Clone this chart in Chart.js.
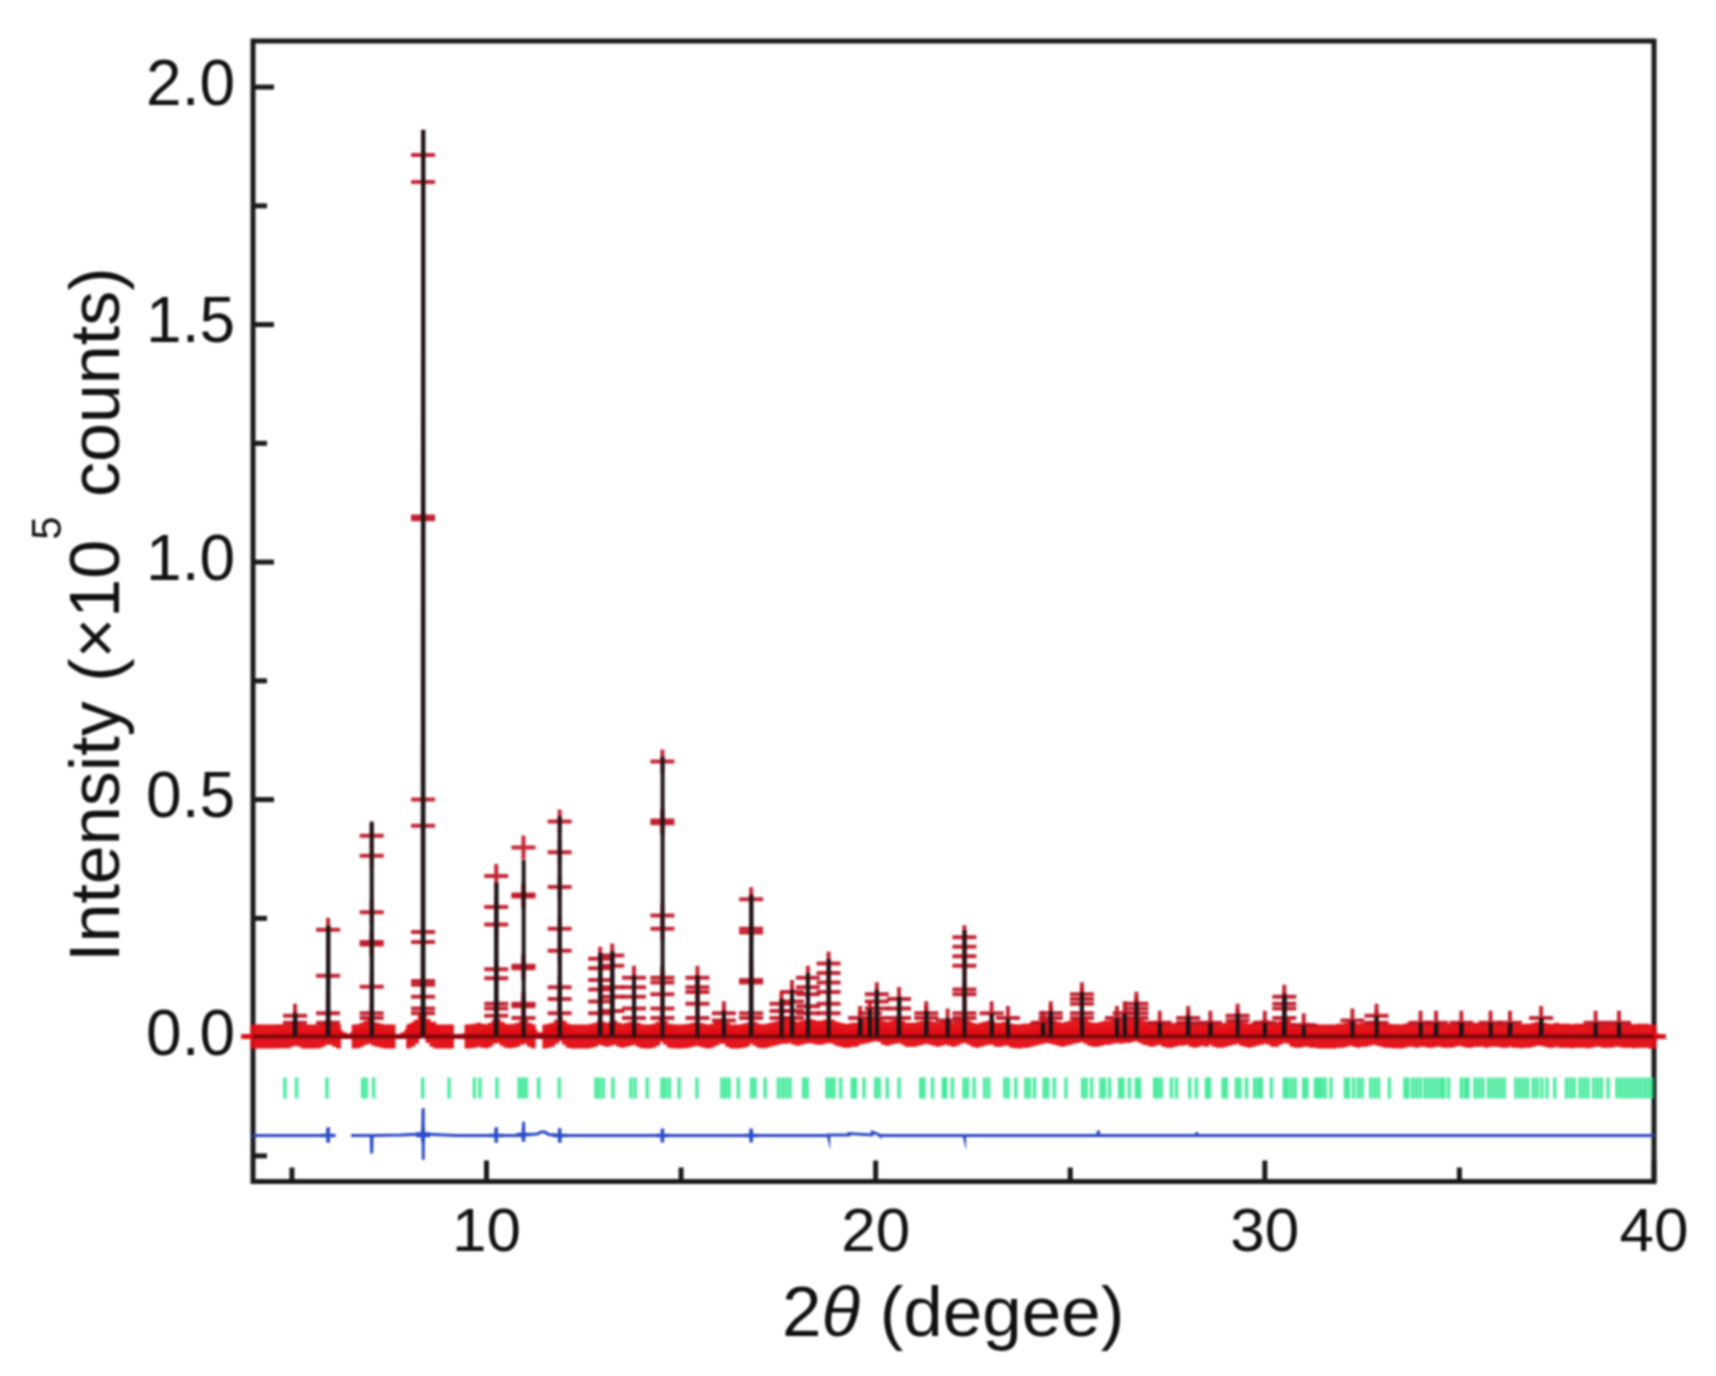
<!DOCTYPE html>
<html><head><meta charset="utf-8">
<style>html,body{margin:0;padding:0;background:#fff}canvas{display:block;filter:blur(1px)}</style>
<script src="https://cdn.jsdelivr.net/npm/chart.js@4"></script>
</head><body><canvas id="c" width="1716" height="1376"></canvas>
<script>
const xTicks=[5,10,15,20,25,30,35,40];
const xLabels={10:'10',20:'20',30:'30',40:'40'};
const yTicks=[-0.25,0,0.25,0.5,0.75,1,1.25,1.5,1.75,2];
const yLabels={0:'0.0',0.5:'0.5',1:'1.0',1.5:'1.5',2:'2.0'};
const xTitleParts=['2','θ',' (degee)'];
const yTitleParts=['Intensity (×10','5',' counts)'];

// observed (+): peak positions and the marker heights read on each peak
const peakPos=[5.08,5.93,7.05,8.37,10.25,10.95,11.88,12.92,13.23,13.79,14.52,15.42,16.1,16.8,17.58,17.85,18.26,18.79,19.6,19.85,20.03,20.6,21.3,21.85,22.28,22.98,23.4,24.3,24.5,25.3,26.2,26.4,26.7,27.3,28.03,28.6,29.3,30.0,30.5,31.0,32.25,32.87,34.0,34.4,35.05,35.8,36.3,37.1,38.5,39.1];
const peakMarks=[[.03,.045],[.226,.129,.05,.03],[.424,.382,.263,.2,.195,.106,.05,.04],[1.857,1.8,1.096,1.09,.5,.445,.221,.2,.118,.11,.085,.06,.05],[.339,.274,.237,.143,.124,.07,.06,.045],[.399,.3,.296,.15,.145,.07,.065,.04],[.454,.389,.316,.228,.182,.105,.08,.05],[.165,.145,.12,.1,.075,.05],[.172,.15,.105,.085,.055],[.125,.105,.085,.06,.04],[.58,.456,.45,.256,.228,.125,.115,.09,.06,.04],[.125,.105,.095,.07,.04],[.05,.035],[.29,.228,.22,.12,.115,.05,.04],[.07,.055,.04],[.095,.075,.055,.04],[.125,.105,.09,.065,.05],[.155,.135,.115,.095,.07,.05],[.04],[.05],[.09,.075,.06,.04],[.08,.06,.04],[.05,.04],[.035],[.21,.19,.17,.15,.1,.09,.05,.04],[.05],[.04],[.03],[.05,.04],[.09,.08,.07,.05,.04],[.04],[.05],[.07,.06,.05,.04],[.03],[.04,.03],[.03],[.045,.035],[.03],[.085,.07,.06,.04],[.025],[.035],[.045,.03],[.03],[.03],[.03],[.03],[.03],[.04],[.03],[.03]];

// observed (+): dense background band, one row per degree, null where the band has a gap
const bandX=[
4.0,4.1,4.2,4.3,4.4,4.5,4.6,4.7,4.8,4.9,
5.0,5.1,5.2,5.3,5.4,5.5,5.6,5.7,5.8,5.9,
6.0,6.1,6.2,6.3,6.4,6.5,6.6,6.7,6.8,6.9,
7.0,7.1,7.2,7.3,7.4,7.5,7.6,7.7,7.8,7.9,
8.0,8.1,8.2,8.3,8.4,8.5,8.6,8.7,8.8,8.9,
9.0,9.1,9.2,9.3,9.4,9.5,9.6,9.7,9.8,9.9,
10.0,10.1,10.2,10.3,10.4,10.5,10.6,10.7,10.8,10.9,
11.0,11.1,11.2,11.3,11.4,11.5,11.6,11.7,11.8,11.9,
12.0,12.1,12.2,12.3,12.4,12.5,12.6,12.7,12.8,12.9,
13.0,13.1,13.2,13.3,13.4,13.5,13.6,13.7,13.8,13.9,
14.0,14.1,14.2,14.3,14.4,14.5,14.6,14.7,14.8,14.9,
15.0,15.1,15.2,15.3,15.4,15.5,15.6,15.7,15.8,15.9,
16.0,16.1,16.2,16.3,16.4,16.5,16.6,16.7,16.8,16.9,
17.0,17.1,17.2,17.3,17.4,17.5,17.6,17.7,17.8,17.9,
18.0,18.1,18.2,18.3,18.4,18.5,18.6,18.7,18.8,18.9,
19.0,19.1,19.2,19.3,19.4,19.5,19.6,19.7,19.8,19.9,
20.0,20.1,20.2,20.3,20.4,20.5,20.6,20.7,20.8,20.9,
21.0,21.1,21.2,21.3,21.4,21.5,21.6,21.7,21.8,21.9,
22.0,22.1,22.2,22.3,22.4,22.5,22.6,22.7,22.8,22.9,
23.0,23.1,23.2,23.3,23.4,23.5,23.6,23.7,23.8,23.9,
24.0,24.1,24.2,24.3,24.4,24.5,24.6,24.7,24.8,24.9,
25.0,25.1,25.2,25.3,25.4,25.5,25.6,25.7,25.8,25.9,
26.0,26.1,26.2,26.3,26.4,26.5,26.6,26.7,26.8,26.9,
27.0,27.1,27.2,27.3,27.4,27.5,27.6,27.7,27.8,27.9,
28.0,28.1,28.2,28.3,28.4,28.5,28.6,28.7,28.8,28.9,
29.0,29.1,29.2,29.3,29.4,29.5,29.6,29.7,29.8,29.9,
30.0,30.1,30.2,30.3,30.4,30.5,30.6,30.7,30.8,30.9,
31.0,31.1,31.2,31.3,31.4,31.5,31.6,31.7,31.8,31.9,
32.0,32.1,32.2,32.3,32.4,32.5,32.6,32.7,32.8,32.9,
33.0,33.1,33.2,33.3,33.4,33.5,33.6,33.7,33.8,33.9,
34.0,34.1,34.2,34.3,34.4,34.5,34.6,34.7,34.8,34.9,
35.0,35.1,35.2,35.3,35.4,35.5,35.6,35.7,35.8,35.9,
36.0,36.1,36.2,36.3,36.4,36.5,36.6,36.7,36.8,36.9,
37.0,37.1,37.2,37.3,37.4,37.5,37.6,37.7,37.8,37.9,
38.0,38.1,38.2,38.3,38.4,38.5,38.6,38.7,38.8,38.9,
39.0,39.1,39.2,39.3,39.4,39.5,39.6,39.7,39.8,39.9,40.0];
const n=null;
const bandBase=-0.007;
const bandY=[
.008,.008,.008,.008,.008,.008,.008,.009,.009,.009,
.012,.014,.012,.008,.008,.008,.008,.009,.012,.016,
.016,.012,.008,n,n,n,.008,.009,.012,.016,
.018,.014,.012,.01,.008,.008,.008,n,n,n,
.008,.012,.018,.03,.034,.02,.012,.008,.008,.008,
.008,.008,n,n,n,.008,.009,.01,.012,.01,
.009,.012,.018,.02,.014,.01,.009,.01,.012,.016,
.018,.012,.009,n,n,.008,.01,.012,.018,.024,
.016,.01,.008,.008,.008,.008,.008,.01,.012,.016,
.014,.012,.014,.016,.012,.01,.012,.014,.016,.012,
.009,.008,.008,.01,.014,.022,.016,.01,.009,.008,
.008,.009,.01,.012,.014,.012,.01,.008,.01,.014,
.018,.018,.012,.008,.008,.008,.01,.012,.018,.014,
.01,.009,.01,.012,.014,.016,.018,.018,.02,.016,
.014,.016,.018,.02,.018,.016,.016,.018,.02,.018,
.014,.012,.01,.01,.012,.012,.016,.018,.02,.022,
.024,.022,.016,.014,.016,.018,.02,.016,.012,.012,
.012,.014,.016,.018,.016,.014,.012,.014,.016,.014,
.012,.014,.018,.02,.016,.012,.01,.012,.014,.016,
.016,.012,.012,.014,.014,.01,.009,.008,.01,.01,
.012,.014,.016,.018,.02,.018,.016,.014,.012,.014,
.016,.018,.02,.022,.018,.014,.012,.012,.014,.016,
.016,.018,.02,.018,.02,.02,.022,.024,.02,.016,
.014,.012,.014,.016,.012,.01,.01,.012,.014,.014,
.016,.012,.01,.012,.014,.012,.016,.012,.01,.01,
.012,.014,.016,.018,.014,.012,.01,.012,.014,.016,
.018,.016,.012,.012,.016,.02,.018,.012,.01,.01,
.012,.012,.01,.01,.008,.008,.008,.008,.008,.01,
.01,.012,.014,.012,.01,.012,.012,.014,.016,.014,
.012,.01,.01,.009,.009,.008,.01,.012,.012,.01,
.012,.012,.01,.01,.012,.012,.01,.01,.01,.012,
.014,.012,.01,.01,.012,.012,.012,.01,.012,.012,
.012,.01,.01,.012,.01,.01,.009,.01,.01,.012,
.014,.014,.012,.01,.01,.012,.01,.01,.01,.009,
.01,.01,.01,.009,.01,.012,.012,.01,.01,.01,
.012,.012,.01,.01,.01,.009,.01,.01,.01,.008,.008];

// calculated (black line)
const calcX=[4,5.07,5.08,5.09,5.92,5.93,5.94,7.04,7.05,7.06,8.36,8.37,8.38,10.24,10.25,10.26,10.94,10.95,10.96,11.87,11.88,11.89,12.91,12.92,12.93,13.22,13.23,13.24,13.78,13.79,13.8,14.51,14.52,14.53,15.41,15.42,15.43,16.09,16.1,16.11,16.79,16.8,16.81,17.57,17.58,17.59,17.84,17.85,17.86,18.25,18.26,18.27,18.78,18.79,18.8,19.59,19.6,19.61,19.84,19.85,19.86,20.02,20.03,20.04,20.59,20.6,20.61,21.29,21.3,21.31,21.84,21.85,21.86,22.27,22.28,22.29,22.97,22.98,22.99,23.39,23.4,23.41,24.29,24.3,24.31,24.49,24.5,24.51,25.29,25.3,25.31,26.19,26.2,26.21,26.39,26.4,26.41,26.69,26.7,26.71,27.29,27.3,27.31,28.02,28.03,28.04,28.59,28.6,28.61,29.29,29.3,29.31,29.99,30,30.01,30.49,30.5,30.51,30.99,31,31.01,32.24,32.25,32.26,32.86,32.87,32.88,33.99,34,34.01,34.39,34.4,34.41,35.04,35.05,35.06,35.79,35.8,35.81,36.29,36.3,36.31,37.09,37.1,37.11,38.49,38.5,38.51,39.09,39.1,39.11,40];
const calcY=[.001,.001,.05,.001,.001,.235,.001,.001,.454,.001,.001,1.91,.001,.001,.325,.001,.001,.373,.001,.001,.465,.001,.001,.177,.001,.001,.18,.001,.001,.13,.001,.001,.59,.001,.001,.13,.001,.001,.055,.001,.001,.3,.001,.001,.08,.001,.001,.1,.001,.001,.135,.001,.001,.165,.001,.001,.04,.001,.001,.06,.001,.001,.1,.001,.001,.085,.001,.001,.055,.001,.001,.04,.001,.001,.225,.001,.001,.05,.001,.001,.04,.001,.001,.03,.001,.001,.055,.001,.001,.095,.001,.001,.04,.001,.001,.05,.001,.001,.075,.001,.001,.03,.001,.001,.045,.001,.001,.03,.001,.001,.05,.001,.001,.03,.001,.001,.09,.001,.001,.025,.001,.001,.035,.001,.001,.045,.001,.001,.03,.001,.001,.03,.001,.001,.03,.001,.001,.03,.001,.001,.03,.001,.001,.04,.001,.001,.03,.001,.001,.03,.001,.001];

// Bragg positions (green bars)
const braggX=[4.82,5.12,5.9,6.82,6.91,7.1,8.36,9.04,9.69,9.83,10.27,10.84,10.93,11.02,11.34,11.87,12.81,12.9,13,13.25,13.71,13.82,14.13,14.51,14.6,14.7,14.95,15.41,16.05,16.14,16.23,16.47,16.81,16.9,17.16,17.5,17.6,17.7,17.8,18.15,18.24,18.75,18.84,18.93,19.1,19.4,19.48,19.7,20,20.09,20.3,20.6,21.16,21.24,21.46,21.74,21.8,21.97,22.27,22.36,22.53,22.8,22.9,23.32,23.41,23.6,23.86,23.95,24.08,24.33,24.42,24.59,24.89,25.32,25.41,25.55,25.79,25.88,26.01,26.27,26.35,26.52,26.7,26.78,27.17,27.25,27.34,27.6,27.73,28.07,28.24,28.5,28.58,28.93,29.01,29.27,29.36,29.53,29.74,29.83,29.91,30.17,30.5,30.58,30.68,30.78,31,31.08,31.3,31.38,31.46,31.55,31.7,32.07,32.15,32.28,32.4,32.5,32.72,32.82,32.92,33.2,33.6,33.68,33.8,33.9,34,34.12,34.22,34.32,34.42,34.52,34.6,34.72,35.05,35.15,35.22,35.4,35.5,35.6,35.75,35.85,35.95,36.05,36.15,36.45,36.55,36.65,36.75,36.9,37,37.12,37.25,37.45,37.75,37.85,37.95,38.1,38.2,38.3,38.45,38.55,38.65,38.82,39.05,39.15,39.25,39.35,39.45,39.55,39.65,39.75,39.85,39.95];
const braggLevel=[-0.107];

// difference (blue line), null marks the break in the curve
const diffX=[4,5.92,5.93,5.93,5.94,6.12,6.3,6.52,7.04,7.05,7.05,7.06,7.8,8.36,8.37,8.37,8.38,9.2,10.24,10.25,10.25,10.26,10.94,10.95,10.95,10.96,11.3,11.4,11.5,11.6,11.87,11.88,11.88,11.89,14.51,14.52,14.52,14.53,16.79,16.8,16.8,16.81,18.78,18.79,18.8,19.3,19.31,19.9,19.91,20.1,20.11,22.27,22.28,22.29,25.71,25.72,25.73,28.24,28.25,28.26,40];
const diffY=[-.207,-.207,-.19,-.222,-.207,-.207,n,-.207,-.207,-.207,-.245,-.207,-.206,-.204,-.15,-.258,-.204,-.207,-.207,-.19,-.222,-.207,-.207,-.178,-.22,-.206,-.204,-.2,-.2,-.205,-.207,-.192,-.222,-.207,-.207,-.195,-.218,-.207,-.207,-.197,-.217,-.207,-.207,-.212,-.206,-.206,-.203,-.206,-.2,-.206,-.207,-.207,-.212,-.207,-.207,-.197,-.207,-.207,-.2,-.207,-.207];
const diffMarkX=[5.93,8.37,8.37,10.25,10.95,11.88,14.52,16.8];
const diffMarkY=[-.207,-.207,-.204,-.207,-.205,-.207,-.207,-.207];

const pts=(xs,ys)=>xs.map((x,i)=>({x,y:ys[i]}));
const obsPeakData=[];
peakPos.forEach((x,i)=>peakMarks[i].forEach(y=>obsPeakData.push({x,y})));

const frameColor='#1a1a1a';
const fontFace='"Liberation Sans", Arial, sans-serif';
const decor={
  id:'decor',
  beforeDatasetsDraw(ch){
    const c=ch.ctx,a=ch.chartArea,sx=ch.scales.x,sy=ch.scales.y;
    c.save();
    c.strokeStyle=frameColor;c.lineWidth=5;c.lineCap='butt';
    xTicks.forEach(v=>{const p=sx.getPixelForValue(v);const l=xLabels[v]?21:14;
      c.beginPath();c.moveTo(p,a.bottom);c.lineTo(p,a.bottom-l);c.stroke();});
    yTicks.forEach(v=>{const p=sy.getPixelForValue(v);const l=yLabels[v]?21:14;
      c.beginPath();c.moveTo(a.left,p);c.lineTo(a.left+l,p);c.stroke();});
    c.strokeRect(a.left,a.top,a.right-a.left,a.bottom-a.top);
    c.restore();
  },
  afterDraw(ch){
    const c=ch.ctx;
    c.save();
    // axis titles
    c.fillStyle='#111';c.textAlign='left';c.textBaseline='alphabetic';
    let x=782;const by=1336;
    c.font='71px '+fontFace;c.fillText(xTitleParts[0],x,by);x+=c.measureText(xTitleParts[0]).width;
    c.font='italic 71px '+fontFace;c.fillText(xTitleParts[1],x,by);x+=c.measureText(xTitleParts[1]).width;
    c.font='71px '+fontFace;c.fillText(xTitleParts[2],x,by);
    c.translate(119,962);c.rotate(-Math.PI/2);
    let t=0;
    c.font='70px '+fontFace;c.fillText(yTitleParts[0],t,0);t+=c.measureText(yTitleParts[0]).width;
    c.font='42px '+fontFace;c.fillText(yTitleParts[1],t,-58);t+=c.measureText(yTitleParts[1]).width;
    c.font='70px '+fontFace;c.fillText(yTitleParts[2],t,0);
    c.restore();
  }
};
const plusStyle={showLine:false,pointStyle:'cross',pointBackgroundColor:'transparent',clip:false};
new Chart(document.getElementById('c'),{
  type:'scatter',
  data:{datasets:[
    {label:'Calculated',data:pts(calcX,calcY),showLine:true,borderColor:'#1c1416',borderWidth:4,pointRadius:0,order:1,tension:0,
     segment:{borderColor:ctx=>(ctx.p0.parsed.y<.01&&ctx.p1.parsed.y<.01)?'rgba(110,8,14,0.85)':undefined}},
    {label:'Observed peaks',data:obsPeakData,...plusStyle,pointRadius:12,pointBorderColor:'rgba(190,20,35,0.92)',pointBorderWidth:4,order:2},
    {label:'Observed',data:bandX.map((x,i)=>({x,y:bandY[i]===n?n:bandY[i]+bandBase})),...plusStyle,pointRadius:12,pointBorderColor:'rgba(226,14,20,0.95)',pointBorderWidth:5,order:3},
    {label:'Bragg',data:braggX.map(x=>({x,y:braggLevel[0]})),showLine:false,pointStyle:'line',rotation:90,pointRadius:10.5,pointBorderColor:'rgba(20,228,130,0.75)',pointBorderWidth:3.5,order:4},
    {label:'Difference',data:pts(diffX,diffY),showLine:true,spanGaps:false,borderColor:'#2a49c4',borderWidth:3,pointRadius:0,order:5,tension:0},
    {label:'Difference marks',data:pts(diffMarkX,diffMarkY),showLine:false,pointStyle:'cross',pointRadius:7,pointBorderColor:'#2248cf',pointBorderWidth:3.5,order:5}
  ]},
  options:{
    responsive:false,animation:false,devicePixelRatio:1,
    layout:{padding:{top:41,right:62,left:0,bottom:0}},
    plugins:{legend:{display:false},tooltip:{enabled:false},title:{display:false}},
    scales:{
      x:{type:'linear',min:4,max:40,
        afterBuildTicks:s=>{s.ticks=xTicks.map(value=>({value}))},
        afterFit:s=>{s.height=194.5;s.paddingLeft=0;s.paddingRight=0},
        grid:{display:false},border:{display:false},
        ticks:{autoSkip:false,maxRotation:0,padding:7,color:'#111',font:{family:fontFace,size:62},callback:v=>xLabels[v]||''}},
      y:{type:'linear',min:-0.304,max:2.097,
        afterBuildTicks:s=>{s.ticks=yTicks.map(value=>({value}))},
        afterFit:s=>{s.width=253;s.paddingTop=0;s.paddingBottom=0},
        grid:{display:false},border:{display:false},
        ticks:{autoSkip:false,padding:10,color:'#111',font:{family:fontFace,size:64},callback:v=>yLabels[v]||''}}
    }
  },
  plugins:[decor]
});
</script></body></html>
